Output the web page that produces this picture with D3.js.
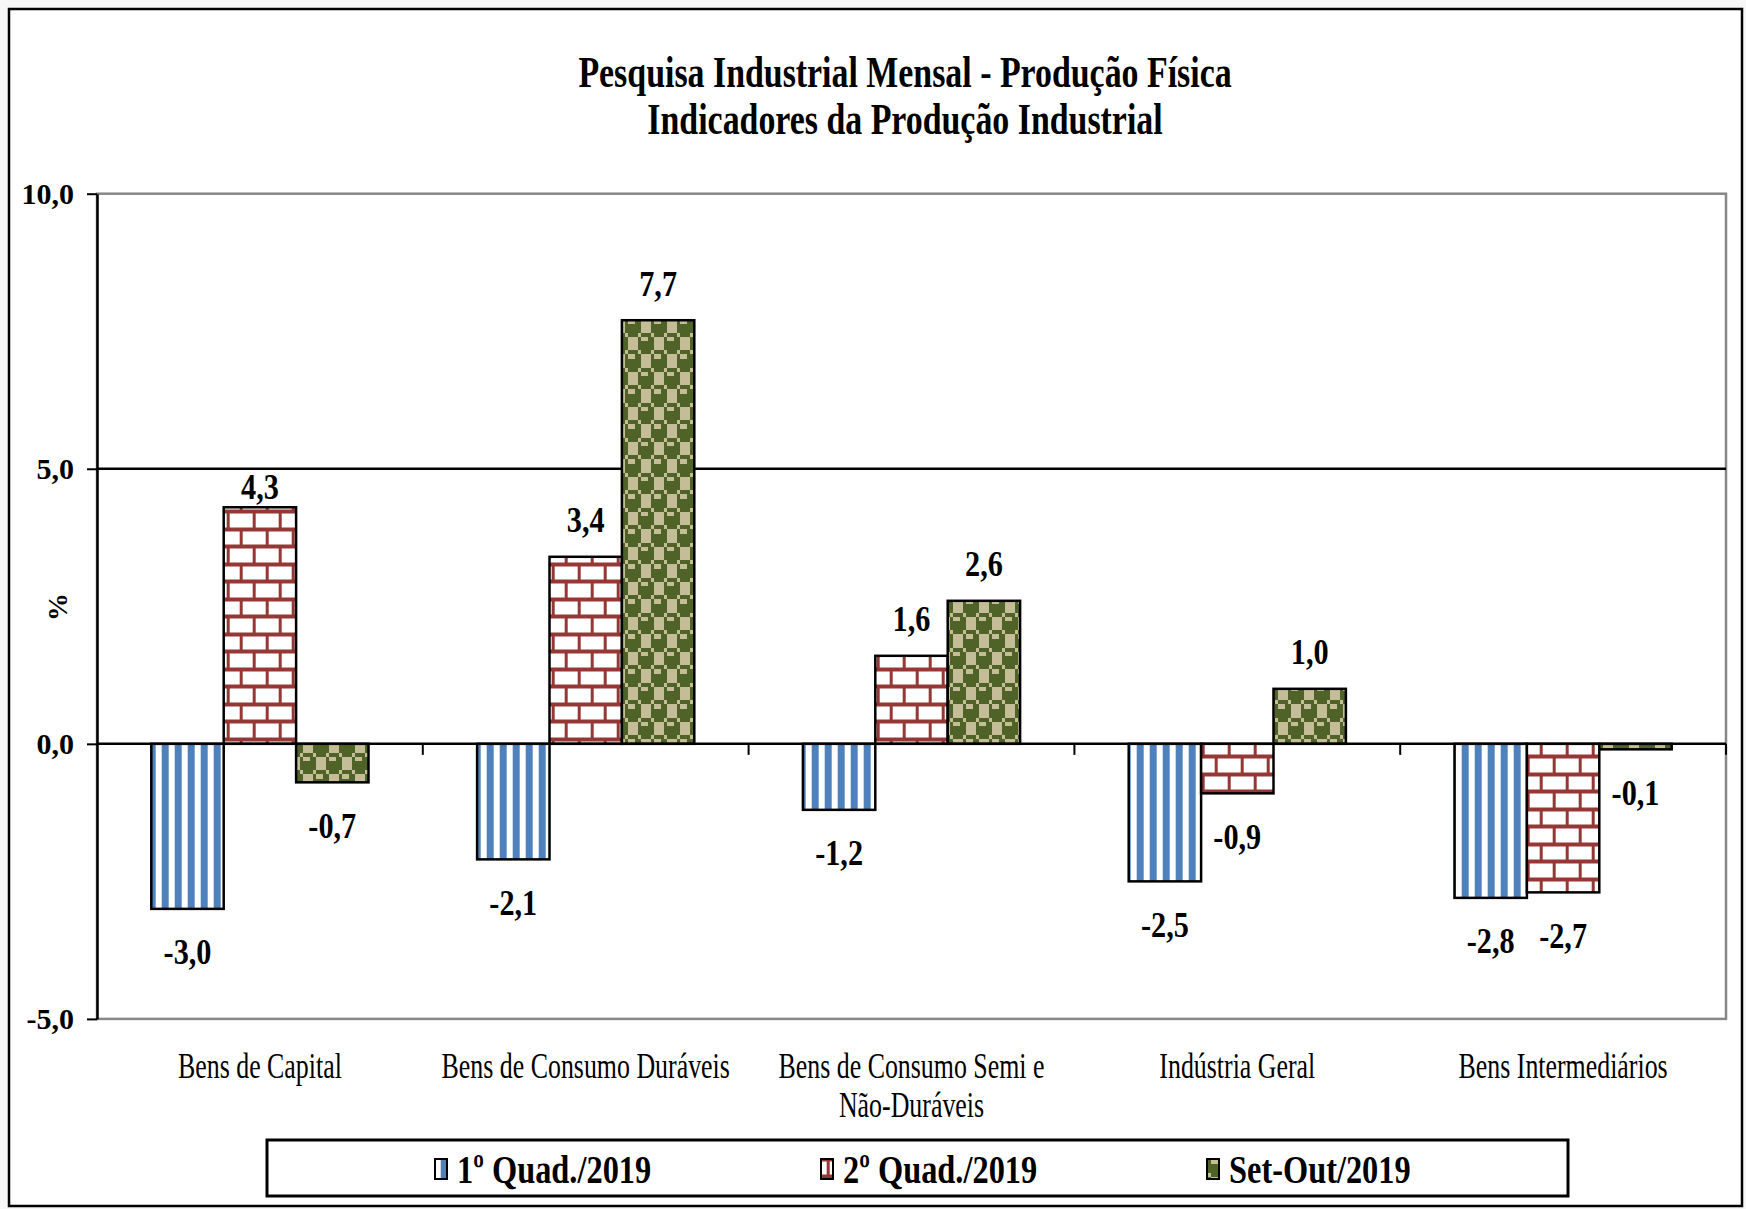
<!DOCTYPE html>
<html>
<head>
<meta charset="utf-8">
<script src="https://cdn.jsdelivr.net/npm/d3@7"></script>
<style>
  body { margin: 0; background: #f7f7f7; }
  svg { display: block; }
  text { font-family: "Liberation Serif", "Times New Roman", serif; fill: #000; }
</style>
</head>
<body>
<div id="chart"></div>
<script>
// Chart data
var titleLines = ["Pesquisa Industrial Mensal - Produção Física", "Indicadores da Produção Industrial"];
var categories = ["Bens de Capital", "Bens de Consumo Duráveis", "Bens de Consumo Semi e Não-Duráveis", "Indústria Geral", "Bens Intermediários"];
var seriesNames = ["1º Quad./2019", "2º Quad./2019", "Set-Out/2019"];
var quad1 = [-3.0, -2.1, -1.2, -2.5, -2.8];
var quad2 = [4.3, 3.4, 1.6, -0.9, -2.7];
var setOut = [-0.7, 7.7, 2.6, 1.0, -0.1];
var yTicks = [-5, 0, 5, 10];
var yLabel = "%";

var seriesValues = [quad1, quad2, setOut];

// Set up chart
var svgWidth = 1746;
var svgHeight = 1209;
var plot = {left: 97, right: 1726, top: 193.7, bottom: 1018.9};

var svg = d3.select("#chart")
  .append("svg")
  .attr("width", svgWidth)
  .attr("height", svgHeight);

var defs = svg.append("defs");

// Excel-like 8x8 hatch patterns, drawn stretched
var PW = 3.25, PH = 4.375;
function addPattern(id, rows, fg, bg, ox, oy) {
  var p = defs.append("pattern")
    .attr("id", id)
    .attr("patternUnits", "userSpaceOnUse")
    .attr("width", 8 * PW)
    .attr("height", 8 * PH)
    .attr("x", ox)
    .attr("y", oy);
  p.append("rect").attr("width", 8 * PW).attr("height", 8 * PH).attr("fill", bg);
  rows.forEach(function(bits, r) {
    for (var c = 0; c < 8; c++) {
      if (bits & (0x80 >> c)) {
        var start = c;
        while (c + 1 < 8 && (bits & (0x80 >> (c + 1)))) c++;
        p.append("rect")
          .attr("x", start * PW)
          .attr("y", r * PH)
          .attr("width", (c - start + 1) * PW)
          .attr("height", PH)
          .attr("fill", fg)
          .attr("shape-rendering", "crispEdges");
      }
    }
  });
}
addPattern("pat0", [0xCC, 0xCC, 0xCC, 0xCC, 0xCC, 0xCC, 0xCC, 0xCC], "#4F81BD", "#ffffff", 5.7, 0);
addPattern("pat1", [0xFF, 0x80, 0x80, 0x80, 0xFF, 0x08, 0x08, 0x08], "#953735", "#ffffff", 18.7, 19.5);
addPattern("pat2", [0x77, 0x98, 0xF8, 0xF8, 0x77, 0x89, 0x8F, 0x8F], "#4F6228", "#C4BD97", 1, 0);

// chart frame
svg.append("rect")
  .attr("x", 9).attr("y", 9)
  .attr("width", 1733).attr("height", 1197)
  .attr("fill", "#ffffff")
  .attr("stroke", "#000")
  .attr("stroke-width", 2.5);

function fmt(v) {
  return (v < 0 ? "-" : "") + Math.abs(v).toFixed(1).replace(".", ",");
}

// condensed text helper: squeeze horizontally like the original picture
function place(sel, x, y, sx) {
  sel.attr("transform", "translate(" + x + "," + y + ") scale(" + sx + ",1)");
  return sel;
}

// Title
titleLines.forEach(function(t, i) {
  var tt = svg.append("text")
    .attr("text-anchor", "middle")
    .attr("font-size", 44)
    .attr("font-weight", "bold")
    .text(t);
  place(tt, 905, 87 + i * 47, 0.77);
});

// Scales
var y = d3.scaleLinear().domain([-5, 10]).range([plot.bottom, plot.top]);
var x0 = d3.scaleBand().domain(categories).range([plot.left, plot.right]);
var x1 = d3.scaleBand().domain(seriesNames).range([0, x0.bandwidth()]).paddingOuter(0.75);

// plot border (gray)
svg.append("rect")
  .attr("x", plot.left).attr("y", plot.top)
  .attr("width", plot.right - plot.left).attr("height", plot.bottom - plot.top)
  .attr("fill", "none")
  .attr("stroke", "#878787")
  .attr("stroke-width", 2.5);

// gridline at 5
svg.append("g")
  .selectAll("line")
  .data(yTicks.filter(function(d) { return d > 0 && d < 10; }))
  .enter()
  .append("line")
  .attr("x1", plot.left).attr("x2", plot.right)
  .attr("y1", function(d) { return y(d); })
  .attr("y2", function(d) { return y(d); })
  .attr("stroke", "#000")
  .attr("stroke-width", 2.5);

// Bars
var barData = [];
categories.forEach(function(c, ci) {
  seriesNames.forEach(function(s, si) {
    barData.push({cat: c, series: s, si: si, value: seriesValues[si][ci]});
  });
});

var bw = x1.bandwidth();
svg.append("g")
  .selectAll("rect")
  .data(barData)
  .enter()
  .append("rect")
  .attr("x", function(d) { return x0(d.cat) + x1(d.series); })
  .attr("y", function(d) { return y(Math.max(0, d.value)); })
  .attr("width", bw)
  .attr("height", function(d) { return Math.abs(y(d.value) - y(0)); })
  .attr("fill", function(d) { return "url(#pat" + d.si + ")"; })
  .attr("stroke", "#000")
  .attr("stroke-width", 2.5);

// zero line with category boundary ticks
svg.append("line")
  .attr("x1", plot.left).attr("x2", plot.right)
  .attr("y1", y(0)).attr("y2", y(0))
  .attr("stroke", "#000")
  .attr("stroke-width", 2.5);

var bounds = categories.map(function(c) { return x0(c); }).concat([plot.right]);
svg.append("g")
  .selectAll("line")
  .data(bounds.slice(1))
  .enter()
  .append("line")
  .attr("x1", function(d) { return d; })
  .attr("x2", function(d) { return d; })
  .attr("y1", y(0))
  .attr("y2", y(0) + 11)
  .attr("stroke", "#000")
  .attr("stroke-width", 2);

// Y axis
var leftAxis = d3.axisLeft(y)
  .tickValues(yTicks)
  .tickSize(10)
  .tickSizeOuter(0)
  .tickPadding(13)
  .tickFormat(fmt);

var yAxisG = svg.append("g")
  .attr("transform", "translate(" + plot.left + ",0)")
  .call(leftAxis);
yAxisG.select(".domain").attr("stroke", "#000").attr("stroke-width", 2.5);
yAxisG.selectAll(".tick line").attr("stroke", "#000").attr("stroke-width", 2);
yAxisG.selectAll(".tick text")
  .attr("font-family", "Liberation Serif, serif")
  .attr("font-size", 30)
  .attr("font-weight", "bold")
  .attr("fill", "#000");

// y axis label
svg.append("text")
  .attr("transform", "translate(57," + 607 + ") rotate(-90)")
  .attr("text-anchor", "middle")
  .attr("dominant-baseline", "central")
  .attr("font-size", 28)
  .attr("font-weight", "bold")
  .text(yLabel);

// Value labels
svg.append("g")
  .selectAll("text")
  .data(barData)
  .enter()
  .append("text")
  .attr("text-anchor", "middle")
  .attr("dominant-baseline", "central")
  .attr("font-size", 36)
  .attr("font-weight", "bold")
  .text(function(d) { return fmt(d.value); })
  .each(function(d) {
    var cx = x0(d.cat) + x1(d.series) + bw / 2;
    var cy;
    if (d.value >= 0) {
      cy = y(d.value) - 37;
      if (Math.abs(cy - y(5)) < 14) cy = y(d.value) - 21;
    } else {
      cy = y(d.value) + 43;
    }
    place(d3.select(this), cx, cy, 0.84);
  });

// Category labels, wrapped to band width
categories.forEach(function(c) {
  var cx = x0(c) + x0.bandwidth() / 2;
  var sx = 0.74;
  var words = c.split(" ");
  var lines = [];
  var line = [];
  var probe = svg.append("text").attr("font-size", 35);
  words.forEach(function(w) {
    line.push(w);
    probe.text(line.join(" "));
    if (probe.node().getComputedTextLength() * sx > 300 && line.length > 1) {
      line.pop();
      lines.push(line.join(" "));
      line = [w];
    }
  });
  lines.push(line.join(" "));
  probe.remove();
  lines.forEach(function(l, i) {
    var t = svg.append("text")
      .attr("text-anchor", "middle")
      .attr("font-size", 35)
      .text(l);
    place(t, cx, 1078 + i * 39, sx);
  });
});

// Legend
svg.append("rect")
  .attr("x", 267).attr("y", 1140)
  .attr("width", 1301).attr("height", 56)
  .attr("fill", "#fff")
  .attr("stroke", "#000")
  .attr("stroke-width", 3);

var legendItem = svg.append("g")
  .selectAll("g")
  .data(seriesNames)
  .enter()
  .append("g")
  .attr("transform", function(d, i) { return "translate(" + (435 + i * 386) + ",0)"; });

legendItem.append("rect")
  .attr("x", 0).attr("y", 1159)
  .attr("width", 12).attr("height", 20)
  .attr("fill", function(d, i) { return "url(#pat" + i + ")"; })
  .attr("stroke", "#000")
  .attr("stroke-width", 2);

legendItem.append("text")
  .attr("font-size", 41)
  .attr("font-weight", "bold")
  .text(function(d) { return d; })
  .each(function() { place(d3.select(this), 22, 1183, 0.79); });
</script>
</body>
</html>
